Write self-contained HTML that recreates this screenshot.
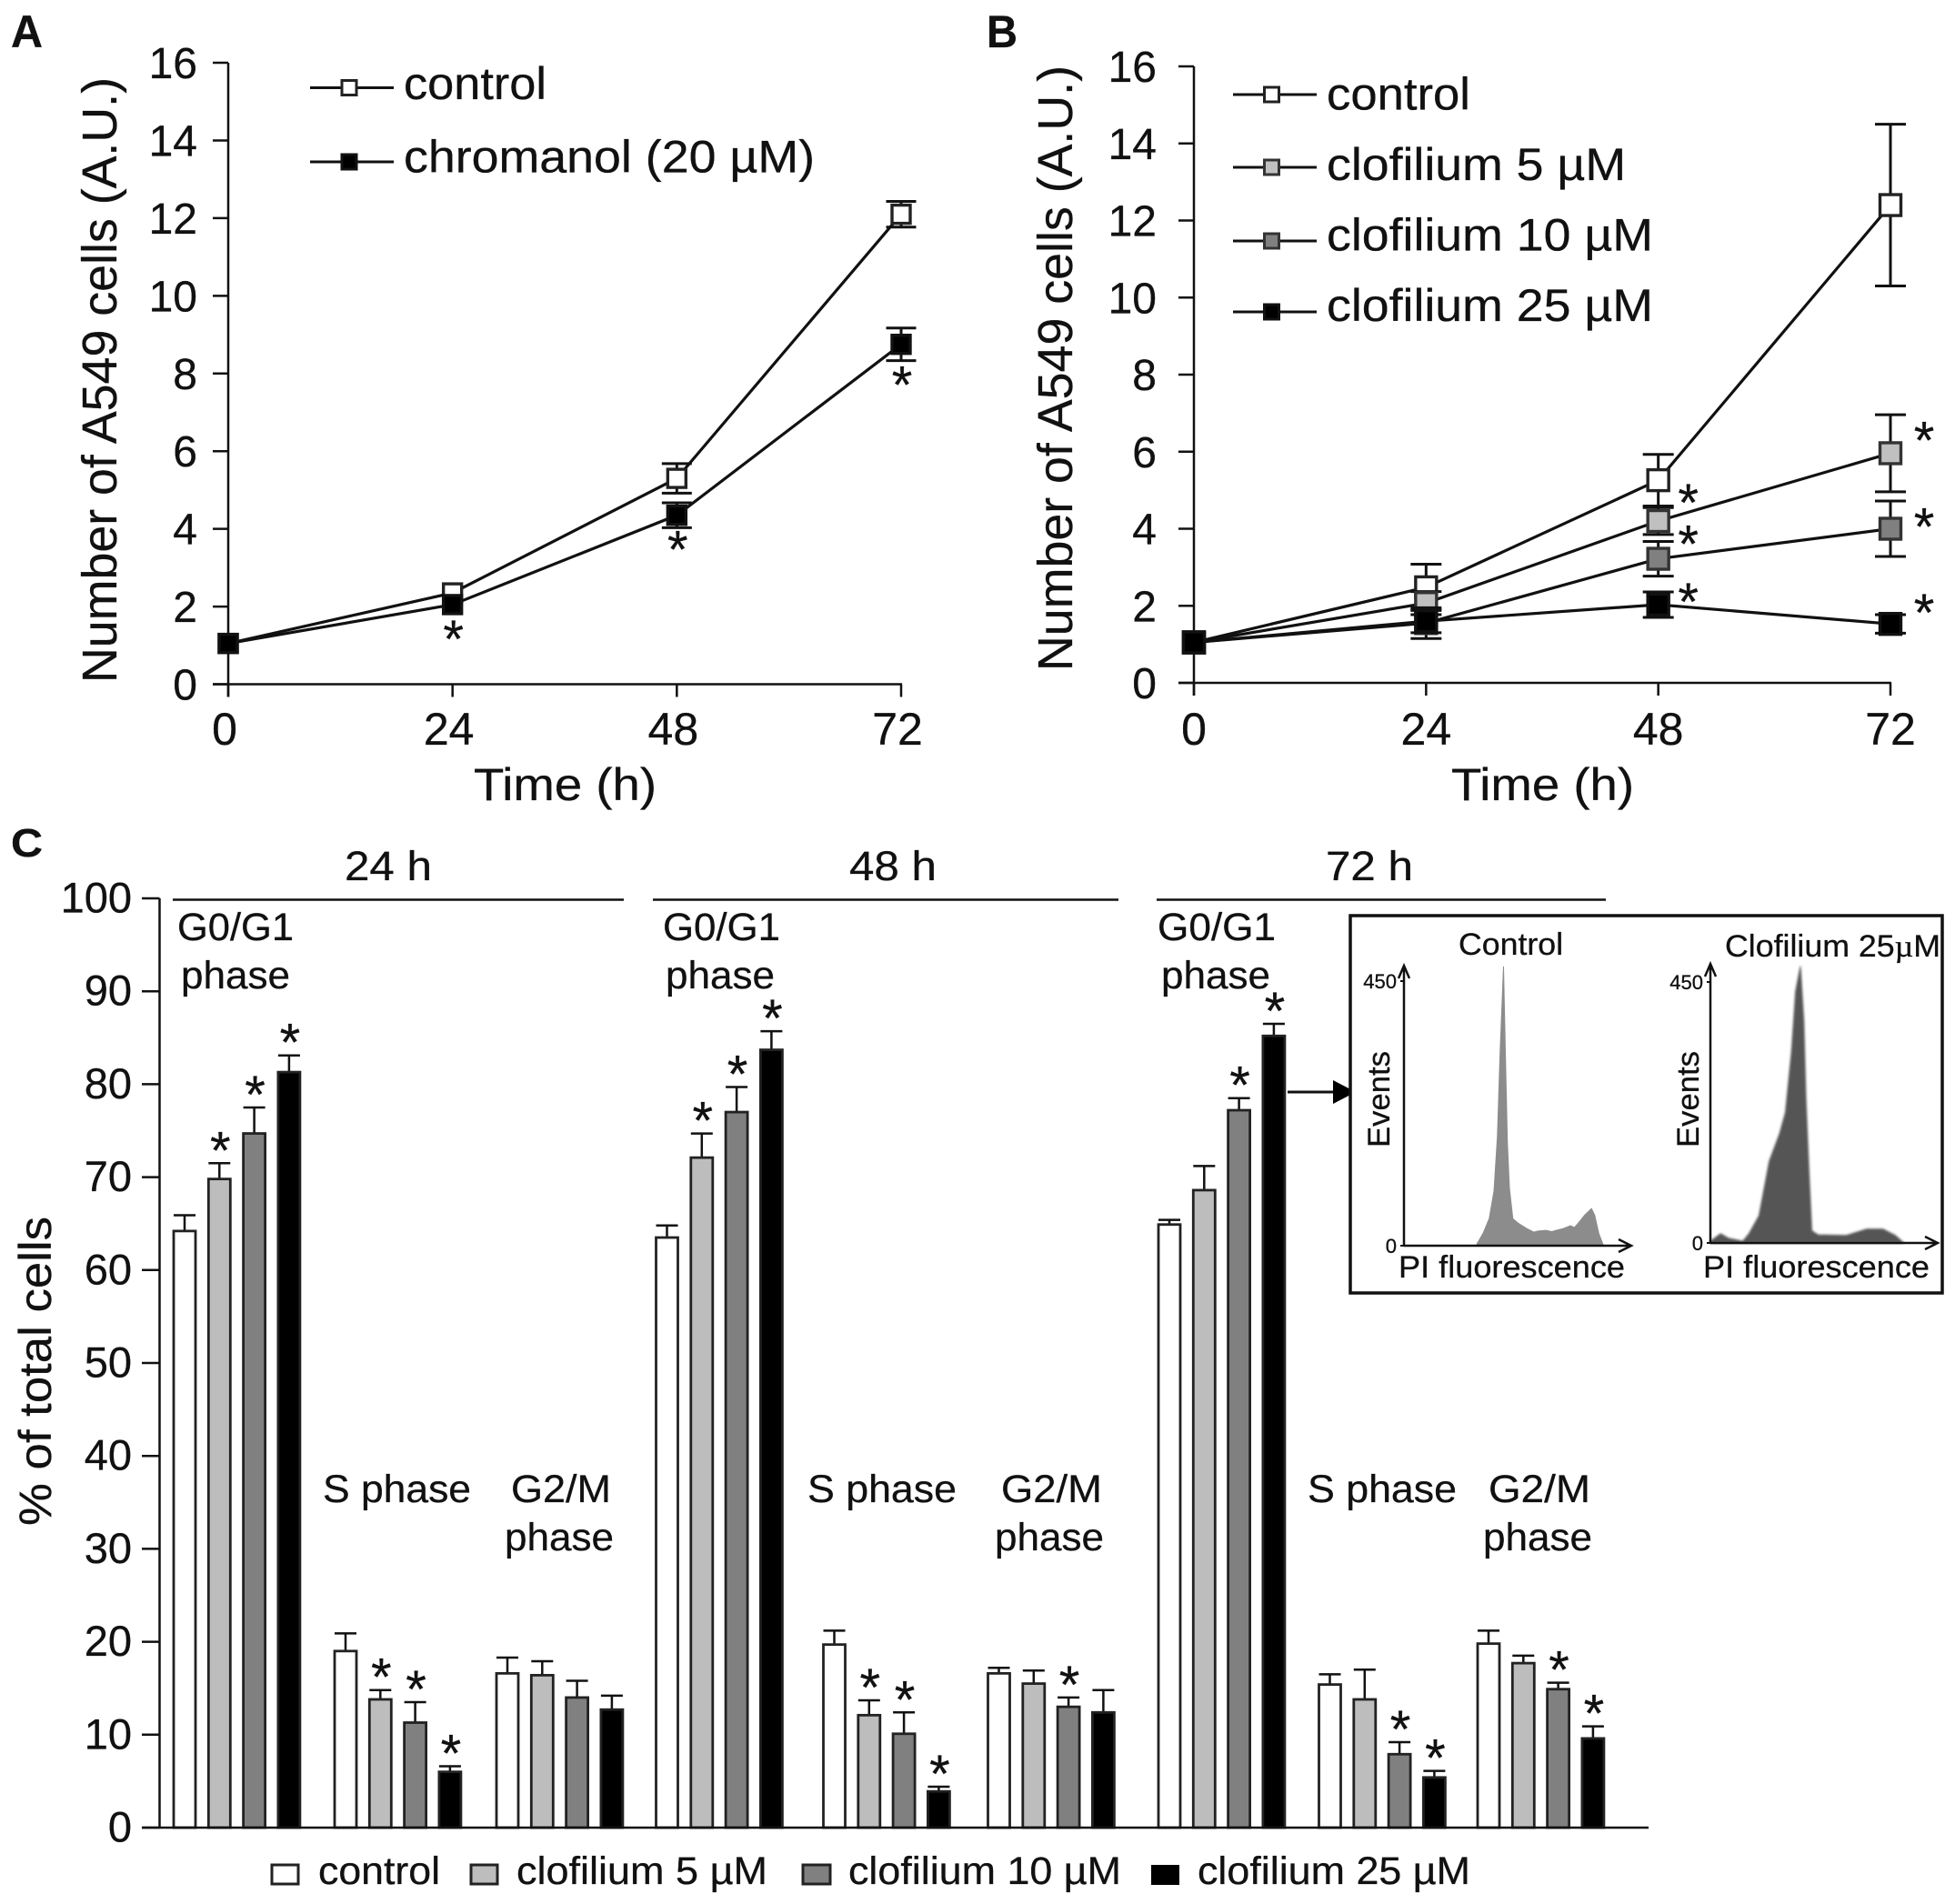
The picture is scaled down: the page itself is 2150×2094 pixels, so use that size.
<!DOCTYPE html>
<html lang="en">
<head>
<meta charset="utf-8">
<title>A549 cell proliferation and cell cycle</title>
<style>
html,body{margin:0;padding:0;background:#fff;width:2150px;height:2094px;overflow:hidden}
svg{display:block}
text{font-family:"Liberation Sans",Arial,sans-serif;fill:#111;stroke:#111;stroke-width:.3}
</style>
</head>
<body>
<svg id="fig" xmlns="http://www.w3.org/2000/svg" width="2150" height="2094" viewBox="0 0 2150 2094">
  <defs><filter id="soft" x="-5%" y="-5%" width="110%" height="110%"><feGaussianBlur stdDeviation="1.2"/></filter></defs>
  <rect width="2150" height="2094" fill="#fff"/>

  <text x="12" y="52" font-size="50" font-weight="bold" textLength="35" lengthAdjust="spacingAndGlyphs">A</text>
  <text x="1085" y="52" font-size="50" font-weight="bold" textLength="34" lengthAdjust="spacingAndGlyphs">B</text>
  <text x="12" y="942" font-size="44" font-weight="bold" textLength="35" lengthAdjust="spacingAndGlyphs">C</text>

  <g id="panelA"></g>
  <g id="panelB"></g>
  <g id="panelC"></g>

  <!-- Panel A static text and legend -->
  <text transform="translate(128,751) rotate(-90)" font-size="54" textLength="666" lengthAdjust="spacingAndGlyphs">Number of A549 cells (A.U.)</text>
  <text x="521" y="880" font-size="50" textLength="201" lengthAdjust="spacingAndGlyphs">Time (h)</text>
  <g>
    <line x1="341" x2="433" y1="96.5" y2="96.5" stroke="#111" stroke-width="3"/>
    <rect x="376" y="88.5" width="16" height="16" fill="#fff" stroke="#222" stroke-width="3"/>
    <text x="444" y="109" font-size="50" textLength="157" lengthAdjust="spacingAndGlyphs">control</text>
    <line x1="341" x2="433" y1="178" y2="178" stroke="#111" stroke-width="3"/>
    <rect x="376" y="170" width="16" height="16" fill="#000" stroke="#111" stroke-width="3"/>
    <text x="444" y="189.5" font-size="50" textLength="452" lengthAdjust="spacingAndGlyphs">chromanol (20 µM)</text>
  </g>

  <!-- Panel B static text and legend -->
  <text transform="translate(1179,738) rotate(-90)" font-size="54" textLength="666" lengthAdjust="spacingAndGlyphs">Number of A549 cells (A.U.)</text>
  <text x="1596" y="880" font-size="50" textLength="201" lengthAdjust="spacingAndGlyphs">Time (h)</text>
  <g>
    <line x1="1356" x2="1448" y1="104" y2="104" stroke="#111" stroke-width="3"/>
    <rect x="1390.5" y="96" width="16" height="16" fill="#fff" stroke="#222" stroke-width="3"/>
    <text x="1459" y="120.5" font-size="50" textLength="158" lengthAdjust="spacingAndGlyphs">control</text>
    <line x1="1356" x2="1448" y1="184" y2="184" stroke="#111" stroke-width="3"/>
    <rect x="1390.5" y="176" width="16" height="16" fill="#c0c0c0" stroke="#333" stroke-width="3"/>
    <text x="1459" y="198" font-size="50" textLength="329" lengthAdjust="spacingAndGlyphs">clofilium 5 µM</text>
    <line x1="1356" x2="1448" y1="265" y2="265" stroke="#111" stroke-width="3"/>
    <rect x="1390.5" y="257" width="16" height="16" fill="#808080" stroke="#333" stroke-width="3"/>
    <text x="1459" y="275.5" font-size="50" textLength="359" lengthAdjust="spacingAndGlyphs">clofilium 10 µM</text>
    <line x1="1356" x2="1448" y1="343" y2="343" stroke="#111" stroke-width="3"/>
    <rect x="1390.5" y="335" width="16" height="16" fill="#000" stroke="#111" stroke-width="3"/>
    <text x="1459" y="353" font-size="50" textLength="359" lengthAdjust="spacingAndGlyphs">clofilium 25 µM</text>
  </g>

  <!-- Panel C static text -->
  <text transform="translate(56,1678) rotate(-90)" font-size="50" textLength="340" lengthAdjust="spacingAndGlyphs">% of total cells</text>
  <g>
    <text x="379" y="968" font-size="45" textLength="96" lengthAdjust="spacingAndGlyphs">24 h</text>
    <line x1="190" x2="686" y1="989.5" y2="989.5" stroke="#111" stroke-width="2.5"/>
    <text x="934" y="968" font-size="45" textLength="96" lengthAdjust="spacingAndGlyphs">48 h</text>
    <line x1="718" x2="1230" y1="989.5" y2="989.5" stroke="#111" stroke-width="2.5"/>
    <text x="1458" y="968" font-size="45" textLength="96" lengthAdjust="spacingAndGlyphs">72 h</text>
    <line x1="1272" x2="1766" y1="989.5" y2="989.5" stroke="#111" stroke-width="2.5"/>
  </g>
  <g font-size="43">
    <text x="195" y="1034" font-size="43" textLength="128" lengthAdjust="spacingAndGlyphs">G0/G1</text>
    <text x="199" y="1087" font-size="43" textLength="120" lengthAdjust="spacingAndGlyphs">phase</text>
    <text x="355" y="1652" font-size="43" textLength="163" lengthAdjust="spacingAndGlyphs">S phase</text>
    <text x="562" y="1652" font-size="43" textLength="110" lengthAdjust="spacingAndGlyphs">G2/M</text>
    <text x="555" y="1705" font-size="43" textLength="120" lengthAdjust="spacingAndGlyphs">phase</text>
    <text x="729" y="1034" font-size="43" textLength="129" lengthAdjust="spacingAndGlyphs">G0/G1</text>
    <text x="732" y="1087" font-size="43" textLength="120" lengthAdjust="spacingAndGlyphs">phase</text>
    <text x="888" y="1652" font-size="43" textLength="164" lengthAdjust="spacingAndGlyphs">S phase</text>
    <text x="1101" y="1652" font-size="43" textLength="111" lengthAdjust="spacingAndGlyphs">G2/M</text>
    <text x="1094" y="1705" font-size="43" textLength="120" lengthAdjust="spacingAndGlyphs">phase</text>
    <text x="1273" y="1034" font-size="43" textLength="130" lengthAdjust="spacingAndGlyphs">G0/G1</text>
    <text x="1277" y="1087" font-size="43" textLength="120" lengthAdjust="spacingAndGlyphs">phase</text>
    <text x="1438" y="1652" font-size="43" textLength="164" lengthAdjust="spacingAndGlyphs">S phase</text>
    <text x="1637" y="1652" font-size="43" textLength="112" lengthAdjust="spacingAndGlyphs">G2/M</text>
    <text x="1631" y="1705" font-size="43" textLength="120" lengthAdjust="spacingAndGlyphs">phase</text>
  </g>
  <g>
    <rect x="299" y="2051" width="29" height="21" fill="#fff" stroke="#222" stroke-width="3"/>
    <text x="350" y="2072" font-size="43" textLength="134" lengthAdjust="spacingAndGlyphs">control</text>
    <rect x="518" y="2051" width="29" height="21" fill="#bdbdbd" stroke="#222" stroke-width="3"/>
    <text x="568" y="2072" font-size="43" textLength="276" lengthAdjust="spacingAndGlyphs">clofilium 5 µM</text>
    <rect x="883" y="2051" width="30" height="21" fill="#808080" stroke="#222" stroke-width="3"/>
    <text x="933" y="2072" font-size="43" textLength="300" lengthAdjust="spacingAndGlyphs">clofilium 10 µM</text>
    <rect x="1266" y="2051" width="31" height="22" fill="#000"/>
    <text x="1317" y="2072" font-size="43" textLength="300" lengthAdjust="spacingAndGlyphs">clofilium 25 µM</text>
  </g>

  <!-- Inset -->
  <g>
    <line x1="1416" x2="1470" y1="1201" y2="1201" stroke="#111" stroke-width="3"/>
    <polygon points="1466,1188 1491,1201 1466,1214" fill="#000"/>
    <rect x="1485" y="1007" width="651" height="415" fill="#fff" stroke="#111" stroke-width="3.5"/>
    <g id="inset"></g>
    <text x="1604" y="1050" font-size="34" textLength="115" lengthAdjust="spacingAndGlyphs">Control</text>
    <text x="1897" y="1052" font-size="34" textLength="237" lengthAdjust="spacingAndGlyphs">Clofilium 25<tspan font-family="'Liberation Serif',serif">µ</tspan>M</text>
    <text x="1538" y="1405" font-size="34" textLength="249" lengthAdjust="spacingAndGlyphs">PI fluorescence</text>
    <text x="1873" y="1405" font-size="34" textLength="249" lengthAdjust="spacingAndGlyphs">PI fluorescence</text>
    <text transform="translate(1528,1262) rotate(-90)" font-size="34" textLength="106" lengthAdjust="spacingAndGlyphs">Events</text>
    <text transform="translate(1868,1262) rotate(-90)" font-size="34" textLength="106" lengthAdjust="spacingAndGlyphs">Events</text>
  </g>
</svg>
<script>
/* ---------- Panel A data ---------- */
const timeTicks = [0, 24, 48, 72];
const countTicks = [0, 2, 4, 6, 8, 10, 12, 14, 16];
const aControl = [1.05, 2.35, 5.3, 12.1];
const aControlErr = [0, 0, 0.38, 0.33];
const aChromanol = [1.05, 2.05, 4.35, 8.75];
const aChromanolErr = [0, 0, 0.32, 0.42];

/* ---------- Panel B data ---------- */
const bControl = [1.05, 2.48, 5.26, 12.4];
const bControlErr = [0, 0.6, 0.67, 2.1];
const bClof5 = [1.05, 2.07, 4.2, 5.96];
const bClof5Err = [0, 0.3, 0.35, 1.0];
const bClof10 = [1.05, 1.55, 3.22, 4.0];
const bClof10Err = [0, 0.4, 0.45, 0.72];
const bClof25 = [1.05, 1.6, 2.03, 1.53];
const bClof25Err = [0, 0.3, 0.33, 0.24];

/* ---------- Panel C data: 24h G0/S/G2M, 48h G0/S/G2M, 72h G0/S/G2M ---------- */
const percentTicks = [0, 10, 20, 30, 40, 50, 60, 70, 80, 90, 100];
const barsControl = [64.2, 19.0, 16.6, 63.5, 19.7, 16.6, 64.9, 15.4, 19.8];
const bars5 = [69.8, 13.8, 16.4, 72.1, 12.1, 15.5, 68.6, 13.8, 17.7];
const bars10 = [74.7, 11.3, 14.0, 77.0, 10.1, 13.0, 77.2, 7.9, 14.9];
const bars25 = [81.3, 6.0, 12.7, 83.7, 3.9, 12.4, 85.2, 5.4, 9.6];
const errControl = [1.7, 1.9, 1.7, 1.3, 1.5, 0.6, 0.5, 1.1, 1.4];
const err5 = [1.7, 1.0, 1.5, 2.6, 1.6, 1.4, 2.6, 3.2, 0.8];
const err10 = [2.8, 2.2, 1.8, 2.7, 2.3, 1.0, 1.3, 1.3, 0.7];
const err25 = [1.8, 0.6, 1.5, 2.0, 0.5, 2.4, 1.3, 0.7, 1.3];
const sig5 = [1, 1, 0, 1, 1, 0, 0, 0, 0];
const sig10 = [1, 1, 0, 1, 1, 1, 1, 1, 1];
const sig25 = [1, 1, 0, 1, 1, 0, 1, 1, 1];

/* ---------- Inset histogram data ---------- */
const histControlChannel = [32.1, 34.8, 37.5, 39.6, 41.1, 42.3, 43.8, 44.6, 45.5, 46.4, 47.9, 50, 53.6, 57.1, 59, 62.5, 65, 67.9, 70, 73.2, 75, 76.8, 79.5, 82.5, 83.9, 85.7, 87.5];
const histControlEvents = [3, 21, 46, 93, 186, 330, 475, 330, 175, 98, 46, 39, 30, 23, 25, 26, 24, 27, 29, 34, 31, 39, 52, 63, 52, 21, 3];
const histClofChannel = [0, 4.5, 8, 14.3, 17, 21.4, 25.9, 30.4, 33, 35.7, 37.5, 39.6, 41.1, 42, 43.4, 44.6, 47.3, 59.8, 68.8, 75.9, 81.3, 84.8];
const histClofEvents = [3, 16, 8, 3, 16, 47, 141, 188, 225, 330, 434, 477, 382, 251, 120, 21, 14, 13, 24, 24, 13, 1];
const histTicks = [0, 450];

const NS = 'http://www.w3.org/2000/svg';
function mk(parent, tag, attrs, text) {
  const n = document.createElementNS(NS, tag);
  for (const k in attrs) n.setAttribute(k, attrs[k]);
  if (text !== undefined) n.textContent = text;
  parent.appendChild(n);
  return n;
}
const INK = '#111';

/* ---------- Line panels ---------- */
function linePanel(root, cfg) {
  const x = t => cfg.x0 + (t / 72) * (cfg.x72 - cfg.x0);
  const y = v => cfg.y0 + (v / 16) * (cfg.y16 - cfg.y0);
  let el;
  el = mk(root, 'line', { x1: x(0), x2: x(0), y1: y(16), y2: y(0) + 14, stroke: INK, 'stroke-width': 2.5 });
  
  
  el = mk(root, 'line', { x1: x(0) - 17, x2: x(72) + 1, y1: y(0), y2: y(0), stroke: INK, 'stroke-width': 2.5 });
  
  
  countTicks.forEach(v => {
    el = mk(root, 'line', { x1: x(0) - 17, x2: x(0), y1: y(v), y2: y(v), stroke: INK, 'stroke-width': 2.5 });
    
    
    el = mk(root, 'text', { x: cfg.yLabelX, y: y(v) + 17, 'text-anchor': 'end', 'font-size': 48 }, String(v));
    
    
  });
  timeTicks.forEach(t => {
    el = mk(root, 'line', { x1: x(t), x2: x(t), y1: y(0), y2: y(0) + 14, stroke: INK, 'stroke-width': 2.5 });
    
    
    el = mk(root, 'text', { x: x(t) + cfg.xLabelShift, y: 819, 'text-anchor': 'middle', 'font-size': 50 }, String(t));
    
    
  });
  cfg.series.forEach(s => {
    const pts = s.values.map((v, i) => x(timeTicks[i]) + ',' + y(v)).join(' ');
    el = mk(root, 'polyline', { points: pts, fill: 'none', stroke: INK, 'stroke-width': 3.2 });
    
    
  });
  cfg.series.forEach(s => {
    s.values.forEach((v, i) => {
      const px = x(timeTicks[i]);
      const hi = y(v + s.err[i]);
      const lo = y(v - s.err[i]);
      const capW = cfg.cap / 2;
      if (s.err[i] > 0) {
        el = mk(root, 'path', { d: `M${px} ${hi}V${lo}M${px - capW} ${hi}H${px + capW}M${px - capW} ${lo}H${px + capW}`, fill: 'none', stroke: INK, 'stroke-width': 3 });
        
        
      }
      const m = cfg.marker;
      el = mk(root, 'rect', { x: px - m / 2, y: y(v) - m / 2, width: m, height: m, fill: s.fill, stroke: s.stroke, 'stroke-width': 3.4 });
      
      
      if (s.stars && s.stars[i] !== null) {
        const cx = px + cfg.starDx(i);
        el = mk(root, 'text', { x: cx, y: y(v) + s.stars[i] + 33, 'text-anchor': 'middle', 'font-size': 58 }, '*');
        
        
      }
    });
  });
}

linePanel(document.getElementById('panelA'), {
  x0: 251, x72: 991, y0: 752.5, y16: 69, yLabelX: 217, xLabelShift: -4, cap: 33, marker: 20, starDx: () => 1,
  series: [
    { values: aControl, err: aControlErr, fill: '#fff', stroke: '#222' },
    { values: aChromanol, err: aChromanolErr, fill: '#000', stroke: '#111', stars: [null, 25, 25, 32] }
  ]
});
linePanel(document.getElementById('panelB'), {
  x0: 1313, x72: 2079, y0: 751, y16: 73, yLabelX: 1272, xLabelShift: 0, cap: 34, marker: 23, starDx: i => (i === 3 ? 37 : 33),
  series: [
    { values: bControl, err: bControlErr, fill: '#fff', stroke: '#222' },
    { values: bClof5, err: bClof5Err, fill: '#c0c0c0', stroke: '#333', stars: [null, null, -33, -27] },
    { values: bClof10, err: bClof10Err, fill: '#808080', stroke: '#333', stars: [null, null, -29, -15] },
    { values: bClof25, err: bClof25Err, fill: '#000', stroke: '#111', stars: [null, null, -16, -25] }
  ]
});

/* ---------- Bar panel ---------- */
(function () {
  const root = document.getElementById('panelC');
  const y = v => 2010 + (v / 100) * (988 - 2010);
  const bandStart = i => [203, 380, 558, 733.5, 917.5, 1098.5, 1286, 1462.5, 1637][i];
  const x = (i, s) => bandStart(i) + s * 38.3;
  const barW = 24;
  const series = [
    { values: barsControl, err: errControl, sig: null, fill: '#fff' },
    { values: bars5, err: err5, sig: sig5, fill: '#bdbdbd' },
    { values: bars10, err: err10, sig: sig10, fill: '#808080' },
    { values: bars25, err: err25, sig: sig25, fill: '#000' }
  ];
  let el;
  series.forEach((s, si) => {
    s.values.forEach((v, i) => {
      const cx = x(i, si);
      const top = y(v + s.err[i]);
      el = mk(root, 'path', { d: `M${cx} ${y(v)}V${top}M${cx - 12} ${top}H${cx + 12}`, fill: 'none', stroke: INK, 'stroke-width': 2.5 });
      
      
      el = mk(root, 'rect', { x: cx - barW / 2, y: y(v), width: barW, height: y(0) - y(v), fill: s.fill, stroke: '#222', 'stroke-width': 2.8 });
      
      
      if (s.sig && s.sig[i]) {
        el = mk(root, 'text', { x: cx + 1, y: top - 27 + 33, 'text-anchor': 'middle', 'font-size': 58 }, '*');
        
        
      }
    });
  });
  el = mk(root, 'line', { x1: 175.5, x2: 175.5, y1: y(100), y2: y(0), stroke: INK, 'stroke-width': 2.5 });
  
  
  el = mk(root, 'line', { x1: 156, x2: 1813, y1: y(0), y2: y(0), stroke: INK, 'stroke-width': 2.5 });
  
  
  percentTicks.forEach(v => {
    el = mk(root, 'line', { x1: 156, x2: 175.5, y1: y(v), y2: y(v), stroke: INK, 'stroke-width': 2.5 });
    
    
    el = mk(root, 'text', { x: 145, y: y(v) + 15.5, 'text-anchor': 'end', 'font-size': 47 }, String(v));
    
    
  });
})();

/* ---------- Inset histograms ---------- */
function histogram(root, cfg) {
  const x = c => cfg.x0 + (c / 100) * cfg.w;
  const y = e => cfg.y0 + (e / 450) * (cfg.y450 - cfg.y0);
  let el;
  const pts = [x(cfg.ch[0]) + ',' + y(0)]
    .concat(cfg.ch.map((c, i) => x(c) + ',' + y(cfg.ev[i])))
    .concat([x(cfg.ch[cfg.ch.length - 1]) + ',' + y(0)]).join(' ');
  el = mk(root, 'polygon', { points: pts, fill: cfg.fill, stroke: cfg.fill, 'stroke-width': 1 });
  if (cfg.soft) el.setAttribute('filter', 'url(#soft)');
  
  
  el = mk(root, 'path', { d: `M${x(0)} ${y(0)}V${cfg.top}M${x(0) - 6} ${cfg.top + 14}L${x(0)} ${cfg.top}L${x(0) + 6} ${cfg.top + 14}`, fill: 'none', stroke: INK, 'stroke-width': 2.5 });
  
  
  el = mk(root, 'path', { d: `M${x(0)} ${y(0)}H${x(100)}M${x(100) - 14} ${y(0) - 7}L${x(100)} ${y(0)}L${x(100) - 14} ${y(0) + 7}`, fill: 'none', stroke: INK, 'stroke-width': 2.5 });
  
  
  histTicks.forEach(t => {
    el = mk(root, 'line', { x1: x(0) - 4, x2: x(0), y1: y(t), y2: y(t), stroke: INK, 'stroke-width': 2 });
    
    
    el = mk(root, 'text', { x: x(0) - 8, y: y(t) + 8, 'text-anchor': 'end', 'font-size': 22 }, String(t));
    
    
  });
}
const insetRoot = document.getElementById('inset');
histogram(insetRoot, { x0: 1544, w: 250, y0: 1370, y450: 1079, top: 1062, ch: histControlChannel, ev: histControlEvents, fill: '#8c8c8c', soft: false });
histogram(insetRoot, { x0: 1881, w: 250, y0: 1367, y450: 1080, top: 1060, ch: histClofChannel, ev: histClofEvents, fill: '#555555', soft: true });
</script>
</body>
</html>
